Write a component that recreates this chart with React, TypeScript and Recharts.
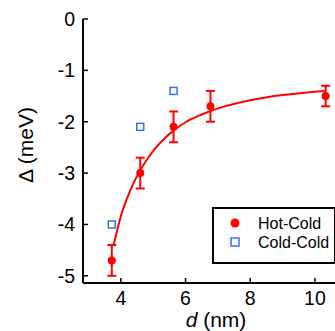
import React from 'react';
import {
  ComposedChart,
  Line,
  Scatter,
  ErrorBar,
  XAxis,
  YAxis,
  Legend,
  Label,
} from 'recharts';

// Hot-Cold samples (filled red, with error bars)
const hotD = [3.72, 4.6, 5.63, 6.77, 10.33];
const hotGap = [-4.7, -3.0, -2.1, -1.7, -1.5];
const hotErr = [0.3, 0.3, 0.3, 0.3, 0.2];

// Cold-Cold samples (open blue squares)
const coldD = [3.72, 4.6, 5.63];
const coldGap = [-4.0, -2.1, -1.4];

// fit curve
const fitD = [3.77, 4.0, 4.25, 4.5, 5.0, 5.5, 6.0, 6.5, 7.0, 8.0, 9.0, 10.3];
const fitGap = [-4.42, -3.84, -3.4, -3.06, -2.57, -2.24, -2.01, -1.86, -1.74, -1.58, -1.48, -1.4];

const xTicks = [4, 6, 8, 10];
const yTicks = [-5, -4, -3, -2, -1, 0];

const hotData = hotD.map((d, i) => ({ d, gap: hotGap[i], err: hotErr[i] }));
const coldData = coldD.map((d, i) => ({ d, gap: coldGap[i] }));
const fitData = fitD.map((d, i) => ({ d, gap: fitGap[i] }));

const RED = '#ff0000';
const BLUE = '#3d6ef2';
const FONT = '"Liberation Sans", Arial, Helvetica, sans-serif';

const RedDot = (props: any) => <circle cx={props.cx} cy={props.cy} r={4} fill={RED} />;

const BlueSquare = (props: any) => (
  <rect
    x={props.cx - 3.5}
    y={props.cy - 3.5}
    width={7}
    height={7}
    fill="none"
    stroke={BLUE}
    strokeWidth={1.5}
  />
);

const LegendBox = () => (
  <div
    style={{
      width: 124,
      height: 57,
      boxSizing: 'border-box',
      border: '2px solid #000',
      background: '#fff',
    }}
  >
    <svg width={120} height={53} style={{ display: 'block' }}>
      <circle cx={21} cy={14} r={4.5} fill={RED} />
      <rect x={17} y={29} width={8} height={8} fill="none" stroke={BLUE} strokeWidth={1.5} />
      <text x={44} y={19.5} fontSize={16} fontFamily={FONT} fill="#000">
        Hot-Cold
      </text>
      <text x={44} y={39} fontSize={16} fontFamily={FONT} fill="#000">
        Cold-Cold
      </text>
    </svg>
  </div>
);

const App = () => {
  return (
    <div style={{ position: 'absolute', left: 0, top: 0, width: 335, height: 331, background: '#fff' }}>
      <ComposedChart
        width={335}
        height={331}
        margin={{ top: 19, right: 0, bottom: 18, left: 0 }}
        style={{ fontFamily: FONT }}
      >
        <XAxis
          type="number"
          dataKey="d"
          domain={[2.83, 10.62]}
          ticks={xTicks}
          allowDataOverflow
          height={30}
          tickSize={-5}
          tickMargin={13}
          axisLine={{ stroke: '#000', strokeWidth: 2 }}
          tickLine={{ stroke: '#000', strokeWidth: 1.5 }}
          tick={{ fill: '#000', fontSize: 19.5 }}
        >
          <Label
            content={() => (
              <text x={216} y={327} textAnchor="middle" fontSize={21} fontFamily={FONT} fill="#000">
                <tspan fontStyle="italic">d</tspan>
                <tspan> (nm)</tspan>
              </text>
            )}
          />
        </XAxis>
        <YAxis
          type="number"
          dataKey="gap"
          domain={[-5.14, 0]}
          ticks={yTicks}
          allowDataOverflow
          width={83}
          tickSize={-5}
          tickMargin={13}
          axisLine={{ stroke: '#000', strokeWidth: 2 }}
          tickLine={{ stroke: '#000', strokeWidth: 1.5 }}
          tick={{ fill: '#000', fontSize: 19.5 }}
        >
          <Label
            content={() => (
              <text
                x={25}
                y={145}
                transform="rotate(-90 25 145)"
                textAnchor="middle"
                dominantBaseline="central"
                fontSize={21}
                fontFamily={FONT}
                fill="#000"
              >
                Δ (meV)
              </text>
            )}
          />
        </YAxis>
        <Legend
          layout="horizontal"
          verticalAlign="middle"
          content={<LegendBox />}
          wrapperStyle={{ left: 212, top: 207, width: 124, height: 57 }}
        />
        <Line
          data={fitData}
          dataKey="gap"
          type="monotone"
          stroke={RED}
          strokeWidth={2}
          dot={false}
          activeDot={false}
          isAnimationActive={false}
          legendType="none"
        />
        <Scatter
          name="Cold-Cold"
          data={coldData}
          dataKey="gap"
          shape={<BlueSquare />}
          isAnimationActive={false}
        />
        <Scatter
          name="Hot-Cold"
          data={hotData}
          dataKey="gap"
          shape={<RedDot />}
          isAnimationActive={false}
        >
          <ErrorBar dataKey="err" direction="y" width={4.5} strokeWidth={2} stroke={RED} />
        </Scatter>
      </ComposedChart>
    </div>
  );
};

export default App;
